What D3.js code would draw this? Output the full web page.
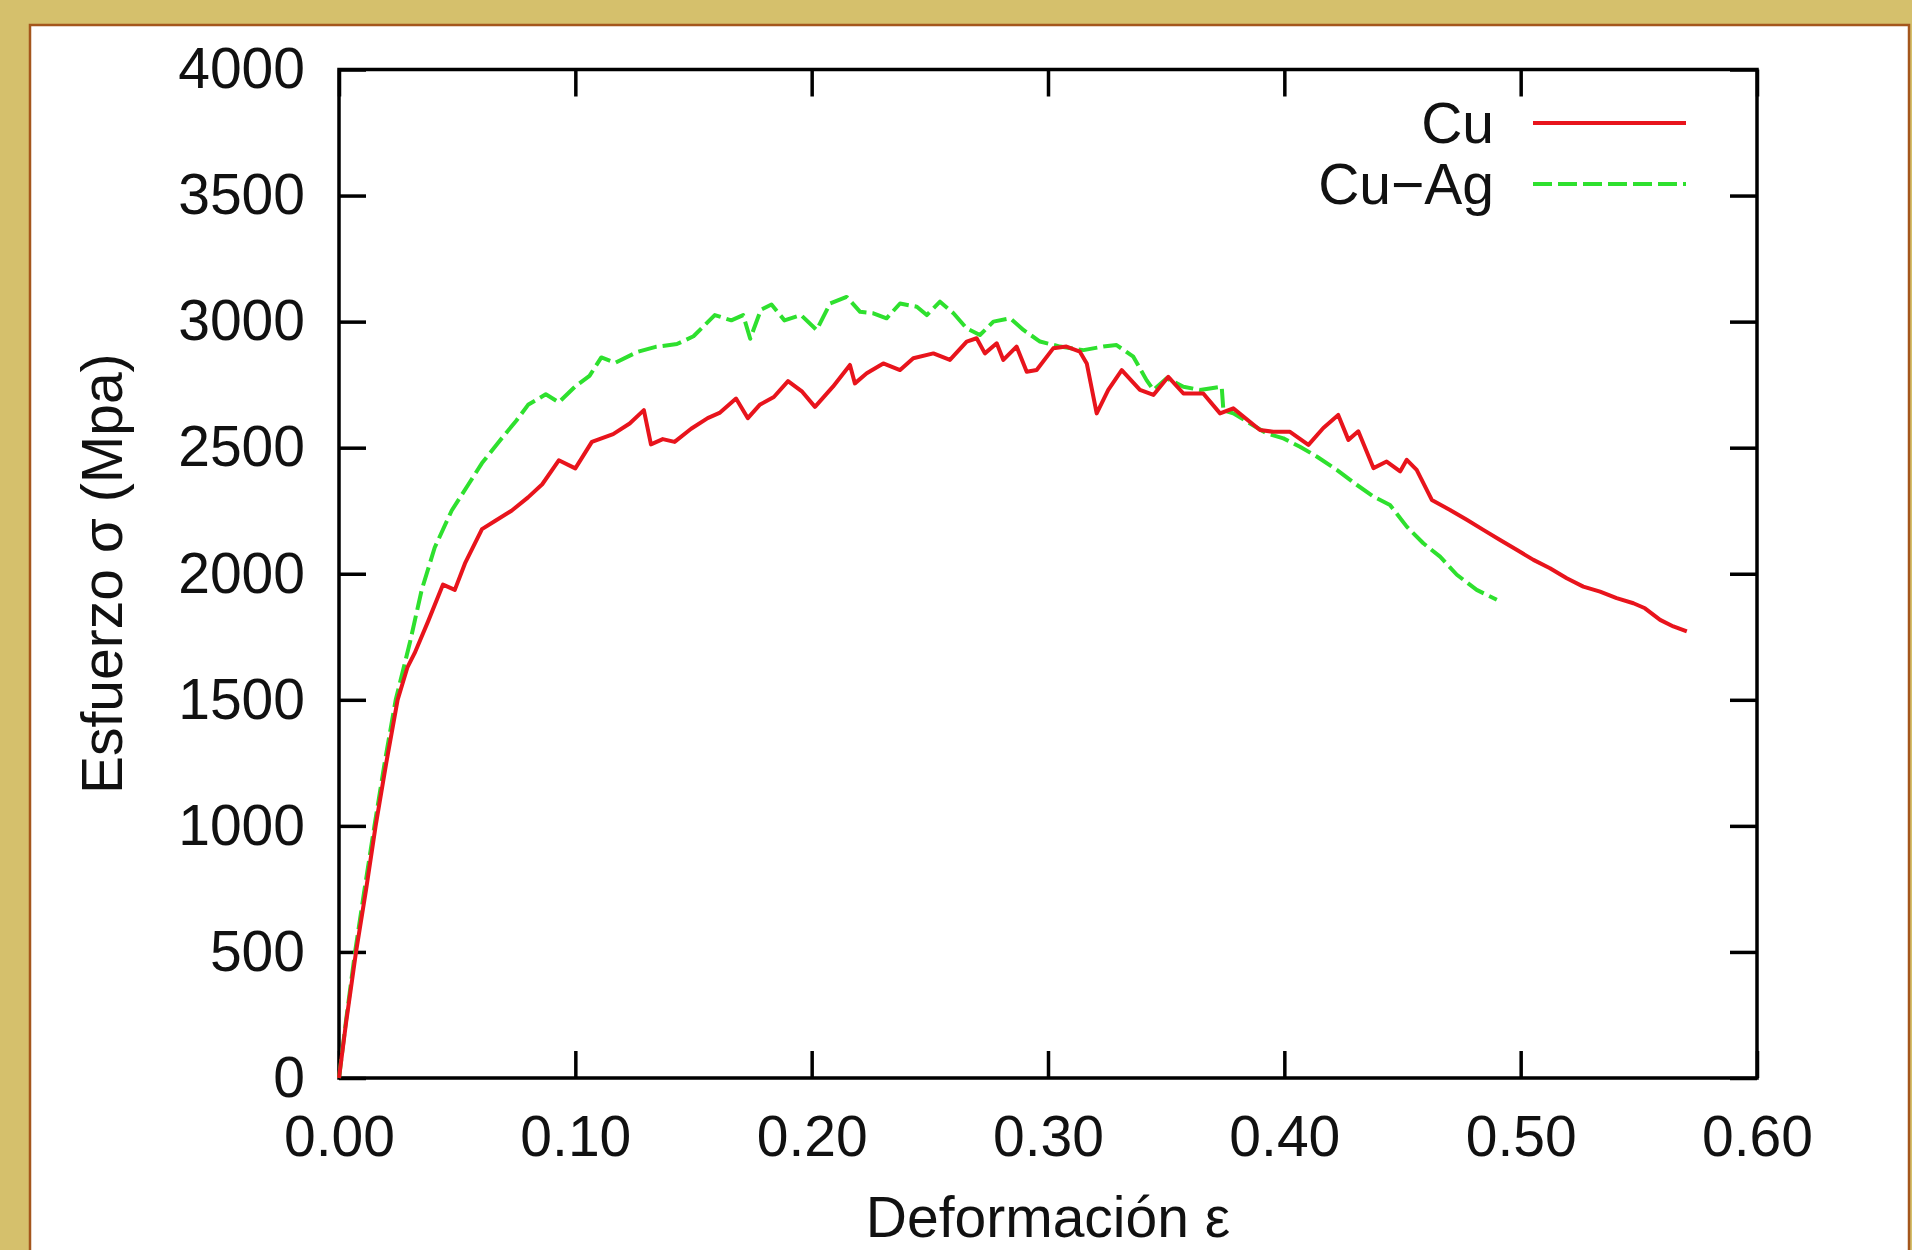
<!DOCTYPE html>
<html>
<head>
<meta charset="utf-8">
<script src="https://cdn.jsdelivr.net/npm/d3@7"></script>
<style>
  body { margin: 0; background: #d5c06c; }
  svg { display: block; }
  text { font-family: "Liberation Sans", Arial, sans-serif; fill: #111; }
</style>
</head>
<body>
<svg id="chart"></svg>
<script>
// Cu curve (strain, stress in MPa)
const cuStrain = [0, 0.003, 0.0072, 0.0115, 0.0155, 0.020, 0.0248, 0.029, 0.032, 0.0377, 0.044, 0.049, 0.0533, 0.0605, 0.066, 0.073, 0.080, 0.086, 0.093, 0.100, 0.107, 0.116, 0.123, 0.129, 0.132, 0.137, 0.142, 0.149, 0.156, 0.161, 0.168, 0.173, 0.178, 0.184, 0.190, 0.196, 0.2014, 0.209, 0.2162, 0.2183, 0.2233, 0.2303, 0.2374, 0.243, 0.2515, 0.2585, 0.2656, 0.2698, 0.2733, 0.2783, 0.2811, 0.2867, 0.291, 0.2952, 0.3022, 0.3078, 0.3135, 0.3164, 0.3206, 0.3255, 0.3312, 0.3389, 0.3446, 0.3509, 0.3573, 0.3657, 0.3728, 0.3784, 0.3897, 0.3953, 0.4024, 0.4102, 0.4165, 0.4228, 0.4271, 0.4313, 0.4377, 0.4433, 0.449, 0.4518, 0.456, 0.4624, 0.4701, 0.4772, 0.4842, 0.4913, 0.4983, 0.5054, 0.5124, 0.5195, 0.5265, 0.5336, 0.5406, 0.5477, 0.5526, 0.559, 0.5646, 0.5703];
const cuStress = [0, 220, 500, 750, 1000, 1250, 1500, 1630, 1685, 1811, 1957, 1936, 2041, 2177, 2209, 2250, 2303, 2355, 2450, 2418, 2523, 2554, 2596, 2649, 2513, 2534, 2523, 2575, 2617, 2638, 2695, 2617, 2670, 2701, 2764, 2722, 2662, 2742, 2828, 2755, 2795, 2834, 2808, 2855, 2874, 2848, 2921, 2934, 2874, 2914, 2848, 2901, 2801, 2808, 2894, 2901, 2881, 2834, 2636, 2729, 2808, 2729, 2709, 2781, 2715, 2715, 2636, 2656, 2570, 2563, 2563, 2511, 2578, 2630, 2531, 2565, 2419, 2445, 2406, 2452, 2412, 2293, 2253, 2214, 2174, 2134, 2095, 2055, 2022, 1982, 1949, 1929, 1903, 1883, 1863, 1817, 1791, 1771];

// Cu-Ag curve
const cuAgStrain = [0, 0.003, 0.0068, 0.011, 0.015, 0.0195, 0.024, 0.030, 0.035, 0.0405, 0.0477, 0.0548, 0.0605, 0.0676, 0.075, 0.080, 0.0875, 0.093, 0.100, 0.106, 0.111, 0.117, 0.126, 0.134, 0.143, 0.150, 0.159, 0.166, 0.171, 0.174, 0.1785, 0.183, 0.1885, 0.1955, 0.2021, 0.2078, 0.2148, 0.2205, 0.2261, 0.2317, 0.2374, 0.2445, 0.2487, 0.2543, 0.26, 0.2656, 0.2712, 0.2769, 0.284, 0.2896, 0.2966, 0.3051, 0.315, 0.3234, 0.329, 0.3361, 0.3417, 0.3446, 0.3502, 0.3573, 0.3643, 0.3735, 0.3742, 0.3784, 0.3855, 0.3925, 0.3996, 0.4066, 0.4137, 0.4222, 0.4306, 0.4377, 0.4447, 0.4518, 0.4588, 0.4659, 0.473, 0.4814, 0.4899];
const cuAgStress = [0, 230, 500, 760, 1000, 1260, 1500, 1727, 1936, 2104, 2251, 2355, 2439, 2523, 2607, 2670, 2712, 2680, 2743, 2785, 2858, 2837, 2879, 2900, 2911, 2942, 3026, 3005, 3026, 2932, 3047, 3068, 3005, 3026, 2967, 3072, 3098, 3039, 3033, 3013, 3072, 3059, 3026, 3079, 3033, 2973, 2947, 3000, 3013, 2967, 2921, 2901, 2887, 2901, 2907, 2861, 2768, 2729, 2775, 2742, 2729, 2742, 2649, 2636, 2596, 2557, 2537, 2504, 2465, 2412, 2353, 2306, 2273, 2187, 2121, 2068, 1996, 1936, 1897];

const xTicks = [0, 0.1, 0.2, 0.3, 0.4, 0.5, 0.6];
const yTicks = [0, 500, 1000, 1500, 2000, 2500, 3000, 3500, 4000];
const seriesNames = ["Cu", "Cu\u2212Ag"];
const seriesColors = ["#e8141c", "#2ee02e"];

const width = 1912, height = 1250;
const frame = { left: 339, right: 1757, top: 69.5, bottom: 1078 };
const tickLen = 27;
const fontSize = 57;
const lineWidth = 4;

const svg = d3.select("#chart").attr("width", width).attr("height", height);

// gold background + white panel
svg.append("rect").attr("width", width).attr("height", height).attr("fill", "#d5c06c");
svg.append("rect")
  .attr("x", 30).attr("y", 25)
  .attr("width", 1879).attr("height", 1240)
  .attr("fill", "#fff")
  .attr("stroke", "#a4561c")
  .attr("stroke-width", 2.5);

// Scales
const x = d3.scaleLinear().domain([0, 0.6]).range([frame.left, frame.right]);
const y = d3.scaleLinear().domain([0, 4000]).range([frame.bottom, frame.top]);

const styleAxis = (g) => {
  g.select(".domain").remove();
  g.selectAll(".tick line").attr("stroke", "#000").attr("stroke-width", 3.5);
  g.selectAll(".tick text").attr("fill", "#111").style("font-size", fontSize + "px")
    .style("font-family", '"Liberation Sans", Arial, sans-serif');
};

// Axes (ticks point inward on all four sides)
svg.append("g")
  .attr("transform", `translate(0,${frame.bottom})`)
  .call(d3.axisBottom(x).tickValues(xTicks).tickFormat(d3.format(".2f"))
    .tickSizeInner(-tickLen).tickSizeOuter(0).tickPadding(38))
  .call(styleAxis);

svg.append("g")
  .attr("transform", `translate(0,${frame.top})`)
  .call(d3.axisTop(x).tickValues(xTicks).tickFormat("")
    .tickSizeInner(-tickLen).tickSizeOuter(0))
  .call(styleAxis);

svg.append("g")
  .attr("transform", `translate(${frame.left},0)`)
  .call(d3.axisLeft(y).tickValues(yTicks).tickFormat(d3.format("d"))
    .tickSizeInner(-tickLen).tickSizeOuter(0).tickPadding(34))
  .call(styleAxis);

svg.append("g")
  .attr("transform", `translate(${frame.right},0)`)
  .call(d3.axisRight(y).tickValues(yTicks).tickFormat("")
    .tickSizeInner(-tickLen).tickSizeOuter(0))
  .call(styleAxis);

// Frame
svg.append("rect")
  .attr("x", frame.left).attr("y", frame.top)
  .attr("width", frame.right - frame.left)
  .attr("height", frame.bottom - frame.top)
  .attr("fill", "none")
  .attr("stroke", "#000")
  .attr("stroke-width", 3.5);

// Axis titles
svg.append("text")
  .attr("x", (frame.left + frame.right) / 2)
  .attr("y", 1237)
  .attr("text-anchor", "middle")
  .style("font-size", fontSize + "px")
  .text("Deformación ε");

svg.append("text")
  .attr("transform", `translate(122,${(frame.top + frame.bottom) / 2}) rotate(-90)`)
  .attr("text-anchor", "middle")
  .style("font-size", fontSize + "px")
  .text("Esfuerzo σ (Mpa)");

// Lines
const line = d3.line().x((d) => x(d[0])).y((d) => y(d[1]));

const cuData = cuStrain.map((e, i) => [e, cuStress[i]]);
const cuAgData = cuAgStrain.map((e, i) => [e, cuAgStress[i]]);

svg.append("path")
  .datum(cuAgData)
  .attr("d", line)
  .attr("fill", "none")
  .attr("stroke", seriesColors[1])
  .attr("stroke-width", lineWidth)
  .attr("stroke-dasharray", "19,6")
  .attr("stroke-linejoin", "round");

svg.append("path")
  .datum(cuData)
  .attr("d", line)
  .attr("fill", "none")
  .attr("stroke", seriesColors[0])
  .attr("stroke-width", lineWidth)
  .attr("stroke-linejoin", "round");

// Legend
const legend = svg.append("g");
const legendY = [123, 184];
seriesNames.forEach((name, i) => {
  legend.append("text")
    .attr("x", 1494)
    .attr("y", legendY[i])
    .attr("dy", "0.35em")
    .attr("text-anchor", "end")
    .style("font-size", fontSize + "px")
    .text(name);
  legend.append("line")
    .attr("x1", 1533).attr("x2", 1686)
    .attr("y1", legendY[i]).attr("y2", legendY[i])
    .attr("stroke", seriesColors[i])
    .attr("stroke-width", lineWidth)
    .attr("stroke-dasharray", i === 1 ? "19,6" : null);
});
</script>
</body>
</html>
